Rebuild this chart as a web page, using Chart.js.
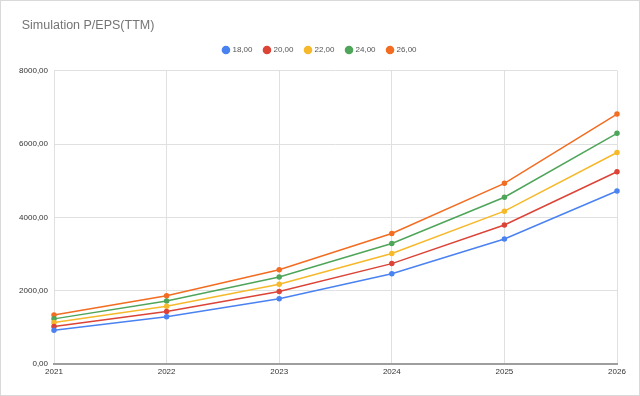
<!DOCTYPE html>
<html>
<head>
<meta charset="utf-8">
<script src="https://cdn.jsdelivr.net/npm/chart.js@4"></script>
<style>
  body { margin: 0; background: #fff; }
  #wrap { position: relative; width: 640px; height: 396px; box-sizing: border-box; border: 1px solid #d9d9d9; }
</style>
</head>
<body>
<div id="wrap"><canvas id="simChart"></canvas></div>
<script>
// Jaren op de x-as
const years = ["2021", "2022", "2023", "2024", "2025", "2026"];

const pe18 = [923, 1287, 1778, 2464, 3411, 4720];
const pe20 = [1026, 1430, 1976, 2738, 3790, 5244];
const pe22 = [1129, 1573, 2174, 3012, 4169, 5768];
const pe24 = [1231, 1716, 2371, 3286, 4548, 6293];
const pe26 = [1334, 1859, 2569, 3559, 4927, 6817];

const seriesLabels = ["18,00", "20,00", "22,00", "24,00", "26,00"];
const seriesColors = ["#4a82f2", "#db4437", "#f6b92b", "#4fa55a", "#f26d22"];
const yTicks = [0, 2000, 4000, 6000, 8000];

const FONT = "'Liberation Sans', Arial, sans-serif";

// Getal met komma als decimaalteken
function fmt(v) {
    return v.toFixed(2).replace(".", ",");
}

const allSeries = [pe18, pe20, pe22, pe24, pe26];

const datasets = allSeries.map((values, i) => ({
    label: seriesLabels[i],
    data: values,
    borderColor: seriesColors[i],
    backgroundColor: seriesColors[i],
    borderWidth: 1.5,
    pointRadius: 2,
    pointHoverRadius: 3,
    tension: 0,
    fill: false
}));

// Legenda: meer ruimte tussen de items, vaste hoogte en gecentreerd op het canvas;
// de titel iets naar rechts zoals in het origineel
const layoutTweaks = {
    id: "layoutTweaks",
    afterLayout(chart) {
        const lg = chart.legend;
        if (lg && lg.legendHitBoxes) {
            const newPad = 12;
            const total = lg.legendHitBoxes.reduce((s, b) => s + b.width, 0);
            lg.options.labels.padding = newPad;
            lg.left = 0;
            lg.right = chart.width;
            lg.top = 49 - newPad - 4;
            lg.lineWidths[0] = total + lg.legendHitBoxes.length * newPad;
        }
        if (chart.titleBlock) {
            chart.titleBlock.left = 20.7;
        }
    }
};

const ctx = document.getElementById("simChart").getContext("2d");
new Chart(ctx, {
    type: "line",
    data: { labels: years, datasets: datasets },
    plugins: [layoutTweaks],
    options: {
        responsive: true,
        maintainAspectRatio: false,
        animation: false,
        layout: { padding: { left: 12, right: 22, top: 0, bottom: 11 } },
        plugins: {
            title: {
                display: true,
                text: "Simulation P/EPS(TTM)",
                align: "start",
                color: "#757575",
                font: { family: FONT, size: 12.5, weight: "normal" },
                padding: { top: 17.5, bottom: 5.8 }
            },
            legend: {
                position: "top",
                labels: {
                    usePointStyle: true,
                    pointStyle: "circle",
                    boxWidth: 5,
                    boxHeight: 5,
                    padding: 13.4,
                    color: "#555",
                    font: { family: FONT, size: 8 }
                }
            },
            tooltip: { enabled: false }
        },
        scales: {
            x: {
                type: "category",
                offset: false,
                afterFit: s => { s.height = 20; },
                grid: { color: "#e0e0e0", lineWidth: 1, drawTicks: false },
                border: { display: true, color: "#9e9e9e", width: 2 },
                ticks: {
                    color: "#333",
                    padding: 3,
                    maxRotation: 0,
                    font: { family: FONT, size: 8 }
                }
            },
            y: {
                min: 0,
                max: 8000,
                afterFit: s => { s.width = 41; },
                afterBuildTicks: s => { s.ticks = yTicks.map(v => ({ value: v })); },
                grid: { color: "#e0e0e0", lineWidth: 1, drawTicks: false },
                border: { display: false },
                ticks: {
                    color: "#333",
                    padding: 6,
                    font: { family: FONT, size: 8 },
                    callback: v => fmt(v)
                }
            }
        }
    }
});
</script>
</body>
</html>
